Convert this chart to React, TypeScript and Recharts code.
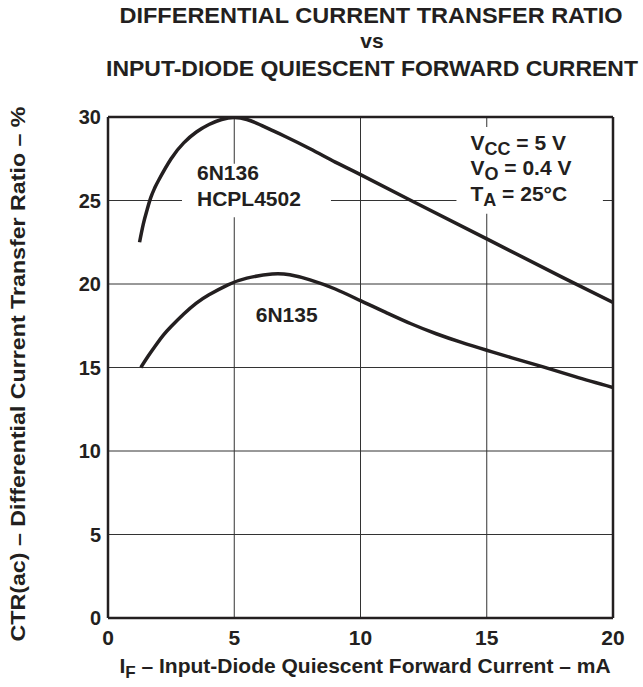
import React from 'react';
import {
  LineChart,
  Line,
  XAxis,
  YAxis,
  CartesianGrid,
  ReferenceArea,
  ReferenceLine,
  Customized,
} from 'recharts';

const xTicks = [0, 5, 10, 15, 20];
const yTicks = [0, 5, 10, 15, 20, 25, 30];

// 6N136 / HCPL4502
const upperX = [1.25, 1.4, 1.55, 1.7, 1.85, 2.0, 2.5, 3.0, 3.5, 4.0, 4.5, 5.0, 5.5, 6.0, 6.5, 7.0, 8.0, 9.0, 10, 12, 15, 18, 20];
const upperY = [22.5, 23.6, 24.45, 25.2, 25.75, 26.2, 27.5, 28.45, 29.1, 29.55, 29.85, 29.97, 29.85, 29.55, 29.2, 28.85, 28.1, 27.3, 26.55, 25.0, 22.7, 20.4, 18.9];

// 6N135
const lowerX = [1.3, 1.6, 1.9, 2.2, 2.5, 3.0, 3.5, 4.0, 4.75, 5.5, 6.5, 7.2, 8.0, 9.0, 10, 11, 12, 13, 14, 15, 16, 17.2, 18.5, 20];
const lowerY = [15.0, 15.7, 16.35, 16.95, 17.45, 18.2, 18.85, 19.35, 19.95, 20.35, 20.6, 20.55, 20.25, 19.7, 19.0, 18.3, 17.62, 17.02, 16.5, 16.03, 15.58, 15.05, 14.45, 13.8];

const upperData = upperX.map((x, i) => ({ x, y: upperY[i] }));
const lowerData = lowerX.map((x, i) => ({ x, y: lowerY[i] }));

const FONT = '"Liberation Sans", Arial, Helvetica, sans-serif';
const INK = '#231f20';

const textStyle = { fontFamily: FONT, fontWeight: 700, fill: INK } as const;

const upperLabel = (props: any) => {
  const vb = props.viewBox || {};
  const x = vb.x + 15;
  const y = vb.y;
  return (
    <g>
      <text x={x} y={y + 16} fontSize={21} style={textStyle}>6N136</text>
      <text x={x} y={y + 42} fontSize={21} style={textStyle}>HCPL4502</text>
    </g>
  );
};

const condLabel = (props: any) => {
  const vb = props.viewBox || {};
  const x = vb.x + 14;
  const y = vb.y;
  return (
    <g>
      <text x={x} y={y + 23} fontSize={21} style={textStyle}>
        V<tspan fontSize={18} dy={5}>CC</tspan>
        <tspan dy={-5}> = 5 V</tspan>
      </text>
      <text x={x} y={y + 48} fontSize={21} style={textStyle}>
        V<tspan fontSize={18} dy={5}>O</tspan>
        <tspan dy={-5}> = 0.4 V</tspan>
      </text>
      <text x={x} y={y + 74} fontSize={21} style={textStyle}>
        T<tspan fontSize={18} dy={5}>A</tspan>
        <tspan dy={-5}> = 25°C</tspan>
      </text>
    </g>
  );
};

const lowerLabel = (props: any) => {
  const vb = props.viewBox || {};
  return (
    <text x={vb.x} y={vb.y + vb.height} fontSize={21} style={textStyle}>6N135</text>
  );
};

const Overlay = () => (
  <g>
    <text
      x={371}
      y={23}
      textAnchor="middle"
      fontSize={21.5}
      textLength={503}
      lengthAdjust="spacingAndGlyphs"
      style={textStyle}
    >
      DIFFERENTIAL CURRENT TRANSFER RATIO
    </text>
    <text x={372} y={48} textAnchor="middle" fontSize={21} style={textStyle}>vs</text>
    <text
      x={372}
      y={76}
      textAnchor="middle"
      fontSize={21.5}
      textLength={532}
      lengthAdjust="spacingAndGlyphs"
      style={textStyle}
    >
      INPUT-DIODE QUIESCENT FORWARD CURRENT
    </text>
    <text
      x={0}
      y={0}
      transform="translate(25,374) rotate(-90)"
      textAnchor="middle"
      fontSize={20}
      textLength={535}
      lengthAdjust="spacingAndGlyphs"
      style={textStyle}
    >
      CTR(ac) – Differential Current Transfer Ratio – %
    </text>
    <text x={365} y={673} textAnchor="middle" fontSize={21} style={textStyle}>
      I<tspan fontSize={17} dy={5}>F</tspan>
      <tspan dy={-5}> – Input-Diode Quiescent Forward Current – mA</tspan>
    </text>
  </g>
);

export default function App() {
  return (
    <div style={{ position: 'absolute', left: 0, top: 0, background: '#fff' }}>
      <LineChart
        width={643}
        height={687}
        margin={{ top: 117, right: 30, bottom: 39, left: 48 }}
      >
        <CartesianGrid stroke="#333" strokeWidth={1} verticalValues={xTicks} horizontalValues={yTicks} />
        <XAxis
          type="number"
          dataKey="x"
          domain={[0, 20]}
          ticks={xTicks}
          allowDataOverflow
          height={30}
          tickLine={false}
          tickSize={0}
          tickMargin={12}
          axisLine={{ stroke: INK, strokeWidth: 2.5 }}
          tick={{ fontSize: 21, fontFamily: FONT, fontWeight: 700, fill: INK }}
        />
        <YAxis
          type="number"
          dataKey="y"
          domain={[0, 30]}
          ticks={yTicks}
          allowDataOverflow
          width={60}
          tickLine={false}
          tickSize={0}
          tickMargin={7}
          axisLine={{ stroke: INK, strokeWidth: 2.5 }}
          tick={{ fontSize: 20, fontFamily: FONT, fontWeight: 700, fill: INK }}
        />
        <ReferenceLine y={30} stroke={INK} strokeWidth={2.5} />
        <ReferenceLine x={20} stroke={INK} strokeWidth={2.5} />
        <ReferenceArea
          x1={2.93}
          x2={8.83}
          y1={24.0}
          y2={27.2}
          fill="#fff"
          fillOpacity={1}
          stroke="none"
          label={upperLabel}
        />
        <ReferenceArea
          x1={13.8}
          x2={19.6}
          y1={24.2}
          y2={29.4}
          fill="#fff"
          fillOpacity={1}
          stroke="none"
          label={condLabel}
        />
        <ReferenceArea
          x1={5.85}
          x2={8.3}
          y1={17.7}
          y2={18.7}
          fill="none"
          fillOpacity={0}
          stroke="none"
          label={lowerLabel}
        />
        <Line
          data={upperData}
          dataKey="y"
          type="natural"
          stroke={INK}
          strokeWidth={3.5}
          dot={false}
          activeDot={false}
          isAnimationActive={false}
        />
        <Line
          data={lowerData}
          dataKey="y"
          type="natural"
          stroke={INK}
          strokeWidth={3.5}
          dot={false}
          activeDot={false}
          isAnimationActive={false}
        />
        <Customized component={Overlay} />
      </LineChart>
    </div>
  );
}
